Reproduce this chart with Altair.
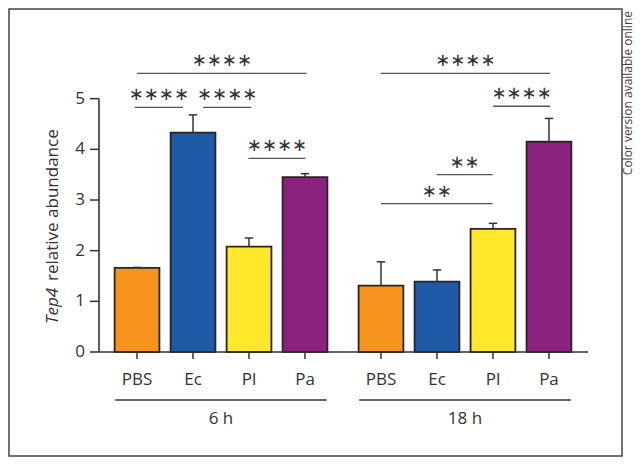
import altair as alt
import pandas as pd

# ---- data ----
TREATMENTS = ["PBS", "Ec", "Pl", "Pa"]
GROUPS = ["6 h", "18 h"]
GROUP_POS = [0.0, 4.357]          # slot offset of each group on the x scale
MEAN_6H = [1.66, 4.33, 2.08, 3.45]
ERR_6H = [0.01, 0.35, 0.17, 0.07]
MEAN_18H = [1.31, 1.39, 2.43, 4.15]
ERR_18H = [0.47, 0.23, 0.11, 0.46]
COLORS = ["#F7941D", "#1F5AA6", "#FFE82A", "#8B237E"]

# significance brackets: start, end (x scale units), height (y units), label
BR_X1 = [-0.04, 1.18, 1.99, 0.0, 4.35, 6.36, 5.35, 4.357]
BR_X2 = [0.82, 2.04, 3.01, 3.03, 7.375, 7.375, 6.35, 6.35]
BR_Y = [4.83, 4.83, 3.82, 5.50, 5.50, 4.85, 3.50, 2.93]
BR_LABEL = ["∗∗∗∗", "∗∗∗∗", "∗∗∗∗", "∗∗∗∗", "∗∗∗∗", "∗∗∗∗", "∗∗", "∗∗"]
Y_TICKS = [0, 1, 2, 3, 4, 5]

FONT = "Open Sans"
INK = "#333333"

rows = []
for gi, (g, means, errs) in enumerate(zip(GROUPS, [MEAN_6H, MEAN_18H], [ERR_6H, ERR_18H])):
    for ti, t in enumerate(TREATMENTS):
        pos = GROUP_POS[gi] + ti
        rows.append(dict(group=g, treat=t, pos=pos, mean=means[ti], err=errs[ti],
                         lo=pos - 0.4, hi=pos + 0.4, top=means[ti] + errs[ti],
                         cl=pos - 0.075, cr=pos + 0.075, base=0))
df = pd.DataFrame(rows)

gdf = pd.DataFrame(dict(group=GROUPS,
                        gl=[p - 0.39 for p in GROUP_POS],
                        gr=[p + 3.39 for p in GROUP_POS],
                        gc=[p + 1.5 for p in GROUP_POS]))

bdf = pd.DataFrame(dict(x1=BR_X1, x2=BR_X2, y=BR_Y, label=BR_LABEL))
bdf["xm"] = (bdf["x1"] + bdf["x2"]) / 2

tdf = pd.DataFrame(dict(v=Y_TICKS, l=[str(v) for v in Y_TICKS], y0=[0] * 6, y1=[5] * 6))

XS = alt.Scale(domain=[-0.679, 8.054], nice=False, zero=False)
YS = alt.Scale(domain=[0, 6], nice=False, zero=True)

one = pd.DataFrame({"a": [0]})

border = alt.Chart(one).mark_rect(fill="white", fillOpacity=0, stroke="#444444", strokeWidth=1.5).encode(
    x=alt.value(-90), x2=alt.value(523), y=alt.value(-39), y2=alt.value(408))

bars = alt.Chart(df).mark_bar(stroke="#2a2424", strokeWidth=1.8).encode(
    x=alt.X("lo:Q", scale=XS, axis=None),
    x2="hi:Q",
    y=alt.Y("mean:Q", scale=YS, axis=None),
    y2="base:Q",
    color=alt.Color("treat:N", scale=alt.Scale(domain=TREATMENTS, range=COLORS), legend=None),
)

err_line = alt.Chart(df).mark_rule(color=INK, strokeWidth=1.5).encode(
    x=alt.X("pos:Q", scale=XS, axis=None),
    y=alt.Y("mean:Q", scale=YS, axis=None), y2="top:Q")
err_cap = alt.Chart(df).mark_rule(color=INK, strokeWidth=1.5).encode(
    x=alt.X("cl:Q", scale=XS, axis=None), x2="cr:Q",
    y=alt.Y("top:Q", scale=YS, axis=None))

# y axis drawn from its own tick list through the y scale
yaxis_line = alt.Chart(tdf.head(1)).mark_rule(color=INK, strokeWidth=1.6).encode(
    x=alt.value(0), y=alt.Y("y0:Q", scale=YS, axis=None), y2="y1:Q")
yticks = alt.Chart(tdf).mark_rule(color=INK, strokeWidth=1.5).encode(
    x=alt.value(-9), x2=alt.value(0), y=alt.Y("v:Q", scale=YS, axis=None))
ylabels = alt.Chart(tdf).mark_text(font=FONT, fontSize=17, color=INK, align="right",
                                   baseline="middle").encode(
    x=alt.value(-14), y=alt.Y("v:Q", scale=YS, axis=None), text="l:N")

xaxis_line = alt.Chart(one).mark_rule(color=INK, strokeWidth=1.6).encode(
    x=alt.value(0), x2=alt.value(489), y=alt.value(304))
xticks = alt.Chart(df).mark_rule(color=INK, strokeWidth=1.5).encode(
    x=alt.X("pos:Q", scale=XS, axis=None), y=alt.value(304), y2=alt.value(311))
xlabels = alt.Chart(df).mark_text(font=FONT, fontSize=17, color=INK, baseline="middle").encode(
    x=alt.X("pos:Q", scale=XS, axis=None), y=alt.value(332), text="treat:N")

glines = alt.Chart(gdf).mark_rule(color=INK, strokeWidth=1.3).encode(
    x=alt.X("gl:Q", scale=XS, axis=None), x2="gr:Q", y=alt.value(352))
glabels = alt.Chart(gdf).mark_text(font=FONT, fontSize=17, color=INK, baseline="middle").encode(
    x=alt.X("gc:Q", scale=XS, axis=None), y=alt.value(371), text="group:N")

blines = alt.Chart(bdf).mark_rule(color="#555555", strokeWidth=1.3).encode(
    x=alt.X("x1:Q", scale=XS, axis=None), x2="x2:Q", y=alt.Y("y:Q", scale=YS, axis=None))
btext = alt.Chart(bdf).mark_text(font="DejaVu Sans", fontSize=18, color=INK, baseline="middle", dy=-12).encode(
    x=alt.X("xm:Q", scale=XS, axis=None), y=alt.Y("y:Q", scale=YS, axis=None), text="label:N")

ytitle_it = alt.Chart(one).mark_text(font=FONT, fontSize=17, fontStyle="italic", color=INK,
                                     angle=270, align="left", baseline="middle").encode(
    x=alt.value(-46), y=alt.value(276), text=alt.value("Tep4"))
ytitle_rest = alt.Chart(one).mark_text(font=FONT, fontSize=17, color=INK,
                                       angle=270, align="left", baseline="middle").encode(
    x=alt.value(-46), y=alt.value(233), text=alt.value("relative abundance"))

side = alt.Chart(one).mark_text(font=FONT, fontSize=12, color="#444444",
                                angle=270, align="right", baseline="alphabetic").encode(
    x=alt.value(533), y=alt.value(-37), text=alt.value("Color version available online"))

chart = alt.layer(
    border, bars, err_line, err_cap, yaxis_line, yticks, ylabels, xaxis_line, xticks, xlabels,
    glines, glabels, blines, btext, ytitle_it, ytitle_rest, side
).properties(
    width=489, height=304,
    autosize=alt.AutoSizeParams(type="none"),
    padding={"left": 91, "top": 40, "right": 48, "bottom": 106},
    background="white",
).configure_view(strokeWidth=0)

chart.save("out.html", embed_options={"renderer": "svg", "actions": False})
